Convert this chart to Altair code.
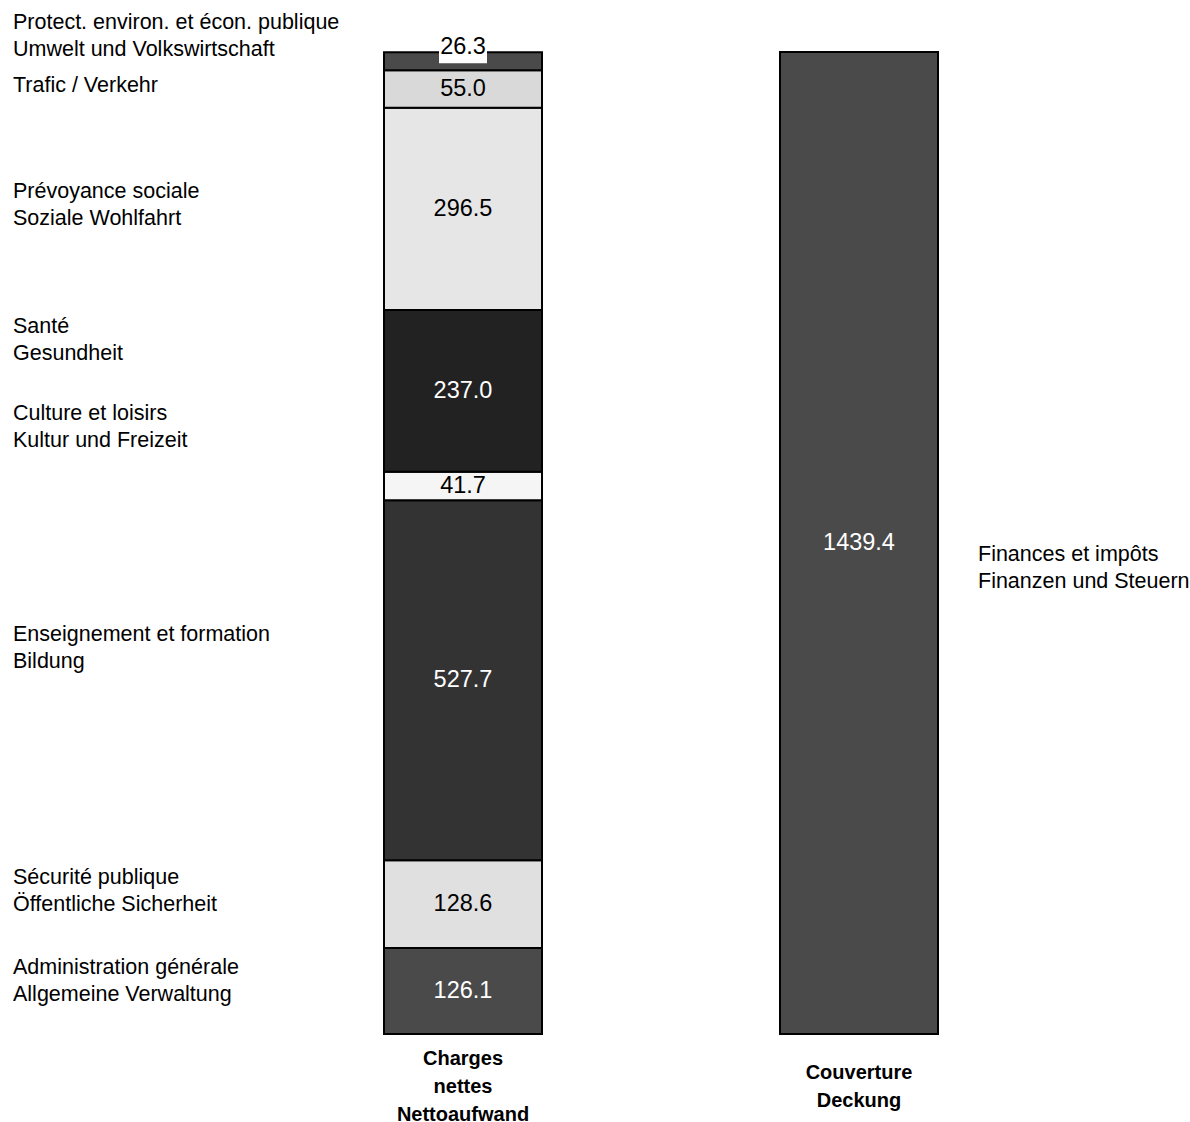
import altair as alt
import pandas as pd

# ---- data (left bar listed bottom to top) ----
bars = ["Charges|nettes|Nettoaufwand", "Couverture|Deckung"]

left_segments = [
    "Administration générale|Allgemeine Verwaltung",
    "Sécurité publique|Öffentliche Sicherheit",
    "Enseignement et formation|Bildung",
    "Culture et loisirs|Kultur und Freizeit",
    "Santé|Gesundheit",
    "Prévoyance sociale|Soziale Wohlfahrt",
    "Trafic / Verkehr",
    "Protect. environ. et écon. publique|Umwelt und Volkswirtschaft",
]
left_values = [126.1, 128.6, 527.7, 41.7, 237.0, 296.5, 55.0, 26.3]
left_fill = ["#4a4a4a", "#e0e0e0", "#333333", "#f5f5f5", "#222222", "#e6e6e6", "#d9d9d9", "#4a4a4a"]
left_text = ["white", "black", "white", "black", "white", "black", "black", "black"]
# label offsets (data units) of the label block centre relative to the segment middle
left_label_shift = [14, 19, 47, 86, 74, 5, 4, 37]
left_value_shift = [0, 0, 0, 0, 0, 0, 0, 21]
left_value_box = [False, False, False, False, False, False, False, True]

right_segments = ["Finances et impôts|Finanzen und Steuern"]
right_values = [1439.4]
right_fill = ["#4a4a4a"]
right_text = ["white"]
right_label_shift = [-37]

FONT = "Liberation Sans"
total = max(sum(left_values), sum(right_values))
Y_BOTTOM, Y_TOP = 1034, 52                      # pixel range of the value axis
UPP = total / (Y_BOTTOM - Y_TOP)                 # data units per pixel
LABEL_LH = 27                                    # label line height (px)

rows = []
for bar, segs, vals, txt, lshift, vshift, vbox, side in [
    (bars[0], left_segments, left_values, left_text, left_label_shift, left_value_shift, left_value_box, "left"),
    (bars[1], right_segments, right_values, right_text, right_label_shift, [0], [False], "right"),
]:
    cum = 0.0
    for i, s in enumerate(segs):
        v = vals[i]
        mid = cum + v / 2
        nlines = s.count("|") + 1
        rows.append(dict(bar=bar, seg=s, value=v, y0=cum, y1=cum + v,
                         vy=mid + vshift[i],
                         ly=mid + lshift[i] + (nlines - 1) / 2 * LABEL_LH * UPP,
                         tcol=txt[i], box=vbox[i], side=side))
        cum += v
df = pd.DataFrame(rows)
df["label"] = df["value"].map(lambda x: f"{x:.1f}")
df["box_lo"] = df["vy"] - 24
df["box_hi"] = df["vy"] + 15

cat_df = pd.DataFrame({"bar": bars})
cat_df["nlines"] = cat_df["bar"].map(lambda s: s.count("|") + 1)
cat_df["ypx"] = 1087 - (cat_df["nlines"] - 1) / 2 * 28

xscale = alt.Scale(domain=bars, range=[384, 938], paddingInner=0.601, paddingOuter=0)
yscale = alt.Scale(domain=[0, total], range=[Y_BOTTOM, Y_TOP], nice=False, zero=True)

seg_domain = left_segments + right_segments
seg_range = left_fill + right_fill

base = alt.Chart(df)

bars_layer = base.mark_bar(stroke="black", strokeWidth=2).encode(
    x=alt.X("bar:N", scale=xscale, sort=bars, axis=None),
    y=alt.Y("y0:Q", scale=yscale, axis=None),
    y2="y1:Q",
    color=alt.Color("seg:N", scale=alt.Scale(domain=seg_domain, range=seg_range), legend=None),
)

box_layer = base.transform_filter("datum.box").mark_bar(color="white", width=48).encode(
    x=alt.X("bar:N", scale=xscale, sort=bars, axis=None),
    y=alt.Y("box_lo:Q", scale=yscale, axis=None),
    y2="box_hi:Q",
)

value_layer = base.mark_text(font=FONT, fontSize=23.5, baseline="middle", align="center").encode(
    x=alt.X("bar:N", scale=xscale, sort=bars, axis=None),
    y=alt.Y("vy:Q", scale=yscale, axis=None),
    text="label:N",
    color=alt.Color("tcol:N", scale=None),
)

left_labels = base.transform_filter("datum.side == 'left'").mark_text(
    font=FONT, fontSize=21.5, align="left", baseline="middle", lineBreak="|",
    lineHeight=LABEL_LH, color="black").encode(
    x=alt.value(13),
    y=alt.Y("ly:Q", scale=yscale, axis=None),
    text="seg:N",
)

right_labels = base.transform_filter("datum.side == 'right'").mark_text(
    font=FONT, fontSize=21.5, align="left", baseline="middle", lineBreak="|",
    lineHeight=LABEL_LH, color="black").encode(
    x=alt.value(978),
    y=alt.Y("ly:Q", scale=yscale, axis=None),
    text="seg:N",
)

cat_labels = alt.Chart(cat_df).mark_text(
    font=FONT, fontSize=20, fontWeight="bold", align="center", baseline="middle",
    lineBreak="|", lineHeight=28, color="black").encode(
    x=alt.X("bar:N", scale=xscale, sort=bars, axis=None),
    y=alt.Y("ypx:Q", scale=None),
    text="bar:N",
)

chart = alt.layer(bars_layer, box_layer, value_layer, left_labels, right_labels, cat_labels).properties(
    width=1190, height=1034,
    autosize=alt.AutoSizeParams(type="none"),
    padding={"left": 0, "right": 0, "top": 0, "bottom": 88},
    background="white",
).configure_view(stroke=None)

chart.save("out.html", embed_options={"renderer": "svg", "actions": False})
